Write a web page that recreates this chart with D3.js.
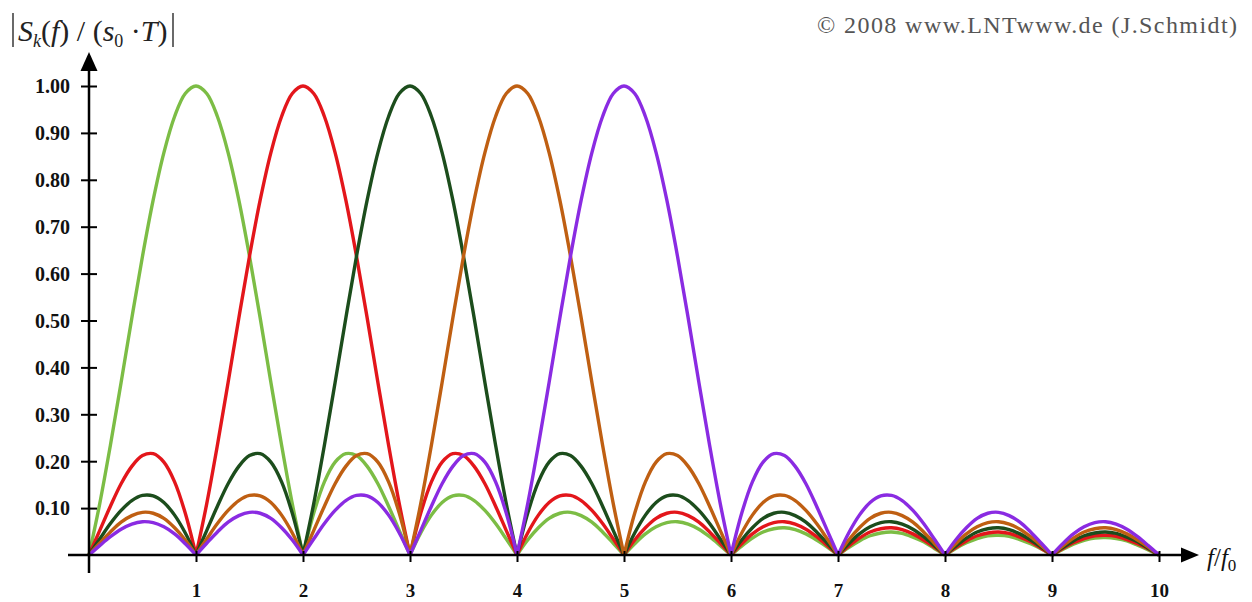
<!DOCTYPE html>
<html>
<head>
<meta charset="utf-8">
<script src="https://cdn.jsdelivr.net/npm/d3@7"></script>
<style>
  body { margin: 0; background: #fff; }
  svg { display: block; }
</style>
</head>
<body>
<div id="chart"></div>
<script>
// sample grid f/f0 = 0, 0.1, ... 10
var fGrid = d3.range(0, 101).map(i => i / 10);

// |S_k(f)/(s0*T)|, one value per 0.1 step of f/f0
var curveK1 = [
  0, .109, .234, .368, .505, .637, .757, .858, .935, .984,
  1, .984, .935, .858, .757, .637, .505, .368, .234, .109,
  0, .089, .156, .198, .216, .212, .189, .152, .104, .052,
  0, .047, .085, .112, .126, .127, .116, .095, .067, .034,
  0, .032, .058, .078, .089, .091, .084, .070, .049, .025,
  0, .024, .045, .060, .069, .071, .066, .055, .039, .020,
  0, .019, .036, .049, .056, .058, .054, .045, .032, .017,
  0, .016, .030, .041, .047, .049, .046, .038, .028, .014,
  0, .014, .026, .035, .041, .042, .040, .033, .024, .013,
  0, .012, .023, .031, .036, .037, .035, .030, .021, .011,
  0];
var curveK2 = [
  0, .052, .104, .152, .189, .212, .216, .198, .156, .089,
  0, .109, .234, .368, .505, .637, .757, .858, .935, .984,
  1, .984, .935, .858, .757, .637, .505, .368, .234, .109,
  0, .089, .156, .198, .216, .212, .189, .152, .104, .052,
  0, .047, .085, .112, .126, .127, .116, .095, .067, .034,
  0, .032, .058, .078, .089, .091, .084, .070, .049, .025,
  0, .024, .045, .060, .069, .071, .066, .055, .039, .020,
  0, .019, .036, .049, .056, .058, .054, .045, .032, .017,
  0, .016, .030, .041, .047, .049, .046, .038, .028, .014,
  0, .014, .026, .035, .041, .042, .040, .033, .024, .013,
  0];
var curveK3 = [
  0, .034, .067, .095, .116, .127, .126, .112, .085, .047,
  0, .052, .104, .152, .189, .212, .216, .198, .156, .089,
  0, .109, .234, .368, .505, .637, .757, .858, .935, .984,
  1, .984, .935, .858, .757, .637, .505, .368, .234, .109,
  0, .089, .156, .198, .216, .212, .189, .152, .104, .052,
  0, .047, .085, .112, .126, .127, .116, .095, .067, .034,
  0, .032, .058, .078, .089, .091, .084, .070, .049, .025,
  0, .024, .045, .060, .069, .071, .066, .055, .039, .020,
  0, .019, .036, .049, .056, .058, .054, .045, .032, .017,
  0, .016, .030, .041, .047, .049, .046, .038, .028, .014,
  0];
var curveK4 = [
  0, .025, .049, .070, .084, .091, .089, .078, .058, .032,
  0, .034, .067, .095, .116, .127, .126, .112, .085, .047,
  0, .052, .104, .152, .189, .212, .216, .198, .156, .089,
  0, .109, .234, .368, .505, .637, .757, .858, .935, .984,
  1, .984, .935, .858, .757, .637, .505, .368, .234, .109,
  0, .089, .156, .198, .216, .212, .189, .152, .104, .052,
  0, .047, .085, .112, .126, .127, .116, .095, .067, .034,
  0, .032, .058, .078, .089, .091, .084, .070, .049, .025,
  0, .024, .045, .060, .069, .071, .066, .055, .039, .020,
  0, .019, .036, .049, .056, .058, .054, .045, .032, .017,
  0];
var curveK5 = [
  0, .020, .039, .055, .066, .071, .069, .060, .045, .024,
  0, .025, .049, .070, .084, .091, .089, .078, .058, .032,
  0, .034, .067, .095, .116, .127, .126, .112, .085, .047,
  0, .052, .104, .152, .189, .212, .216, .198, .156, .089,
  0, .109, .234, .368, .505, .637, .757, .858, .935, .984,
  1, .984, .935, .858, .757, .637, .505, .368, .234, .109,
  0, .089, .156, .198, .216, .212, .189, .152, .104, .052,
  0, .047, .085, .112, .126, .127, .116, .095, .067, .034,
  0, .032, .058, .078, .089, .091, .084, .070, .049, .025,
  0, .024, .045, .060, .069, .071, .066, .055, .039, .020,
  0, .019, .036, .049, .056, .058, .054, .045, .032, .017,
  0];

var seriesValues = [curveK1, curveK2, curveK3, curveK4, curveK5];
var seriesColors = ["#7cbd45", "#e3161b", "#1c4d1c", "#bf5f12", "#8a2be2"];

var xTicks = [1, 2, 3, 4, 5, 6, 7, 8, 9, 10];
var yTicks = [0.1, 0.2, 0.3, 0.4, 0.5, 0.6, 0.7, 0.8, 0.9, 1.0];

var width = 1252, height = 602;
var svg = d3.select("#chart").append("svg")
  .attr("width", width)
  .attr("height", height)
  .style("font-family", "'Liberation Serif', 'Times New Roman', serif");

var x = d3.scaleLinear().domain([0, 10]).range([89, 1159]);
var y = d3.scaleLinear().domain([0, 1]).range([555, 86]);

// curves: split into lobes at the zeros so the cusps stay sharp
var line = d3.line()
  .x(d => x(d[0]))
  .y(d => y(d[1]))
  .curve(d3.curveCatmullRom.alpha(0.5));

seriesValues.forEach(function(vals, k) {
  var lobes = [], cur = [];
  vals.forEach(function(v, i) {
    cur.push([fGrid[i], v]);
    if (v === 0 && cur.length > 1) {
      lobes.push(cur);
      cur = [[fGrid[i], v]];
    }
  });
  svg.append("g")
    .selectAll("path")
    .data(lobes)
    .enter()
    .append("path")
    .attr("d", line)
    .attr("fill", "none")
    .attr("stroke", seriesColors[k])
    .attr("stroke-width", 3.4)
    .attr("stroke-linejoin", "round");
});

// axes
var xAxis = d3.axisBottom(x).tickValues(xTicks).tickFormat(d3.format("d")).tickSize(7);
var yAxis = d3.axisLeft(y).tickValues(yTicks).tickFormat(d3.format(".2f")).tickSize(8);

var gx = svg.append("g").attr("transform", "translate(0," + y(0) + ")").call(xAxis);
gx.select(".domain").remove();
gx.selectAll(".tick line").attr("y1", -4).attr("y2", 7).attr("stroke", "#000").attr("stroke-width", 2);
gx.selectAll(".tick text")
  .attr("y", 29).attr("dy", "0.71em")
  .attr("fill", "#111")
  .style("font-family", "'Liberation Serif', serif")
  .style("font-size", "19px").style("font-weight", "bold");

var gy = svg.append("g").attr("transform", "translate(" + x(0) + ",0)").call(yAxis);
gy.select(".domain").remove();
gy.selectAll(".tick line").attr("x1", 8).attr("x2", -8).attr("stroke", "#000").attr("stroke-width", 2);
gy.selectAll(".tick text")
  .attr("x", -19).attr("dy", "0.34em")
  .attr("fill", "#111")
  .style("font-family", "'Liberation Serif', serif")
  .style("font-size", "20px").style("font-weight", "bold");

// axis lines with arrows
svg.append("line").attr("x1", 68).attr("x2", 1184).attr("y1", y(0)).attr("y2", y(0))
  .attr("stroke", "#000").attr("stroke-width", 2.5);
svg.append("path")
  .attr("d", "M1199," + y(0) + "L1181," + (y(0) - 7.5) + "L1181," + (y(0) + 7.5) + "Z")
  .attr("fill", "#000");
svg.append("line").attr("x1", x(0)).attr("x2", x(0)).attr("y1", 573).attr("y2", 68)
  .attr("stroke", "#000").attr("stroke-width", 2.5);
svg.append("path")
  .attr("d", "M" + x(0) + ",52L" + (x(0) - 8.5) + ",71L" + (x(0) + 8.5) + ",71Z")
  .attr("fill", "#000");

// x axis label f/f0
var xl = svg.append("text").attr("x", 1207).attr("y", 566)
  .style("font-size", "25px").attr("fill", "#111");
xl.append("tspan").style("font-style", "italic").text("f");
xl.append("tspan").text("/");
xl.append("tspan").style("font-style", "italic").text("f");
xl.append("tspan").attr("dy", 5).style("font-size", "17px").text("0");

// title |S_k(f) / (s0·T)|
svg.append("line").attr("x1", 13).attr("x2", 13).attr("y1", 13).attr("y2", 47)
  .attr("stroke", "#444").attr("stroke-width", 1.6);
svg.append("line").attr("x1", 173).attr("x2", 173).attr("y1", 13).attr("y2", 47)
  .attr("stroke", "#444").attr("stroke-width", 1.6);
var tt = svg.append("text").attr("x", 18).attr("y", 41)
  .style("font-size", "30px").attr("fill", "#222");
tt.append("tspan").style("font-style", "italic").text("S");
tt.append("tspan").attr("dy", 6).style("font-size", "18px").style("font-style", "italic").text("k");
tt.append("tspan").attr("dy", -6).text("(");
tt.append("tspan").style("font-style", "italic").text("f");
tt.append("tspan").text(") / (");
tt.append("tspan").style("font-style", "italic").text("s");
tt.append("tspan").attr("dy", 6).style("font-size", "18px").text("0");
tt.append("tspan").attr("dy", -6).text(" \u00b7");
tt.append("tspan").style("font-style", "italic").text("T");
tt.append("tspan").text(")");

// copyright
svg.append("text").attr("x", 817).attr("y", 33)
  .attr("textLength", 420)
  .style("font-size", "24px").attr("fill", "#555")
  .text("\u00a9 2008 www.LNTwww.de (J.Schmidt)");
</script>
</body>
</html>
